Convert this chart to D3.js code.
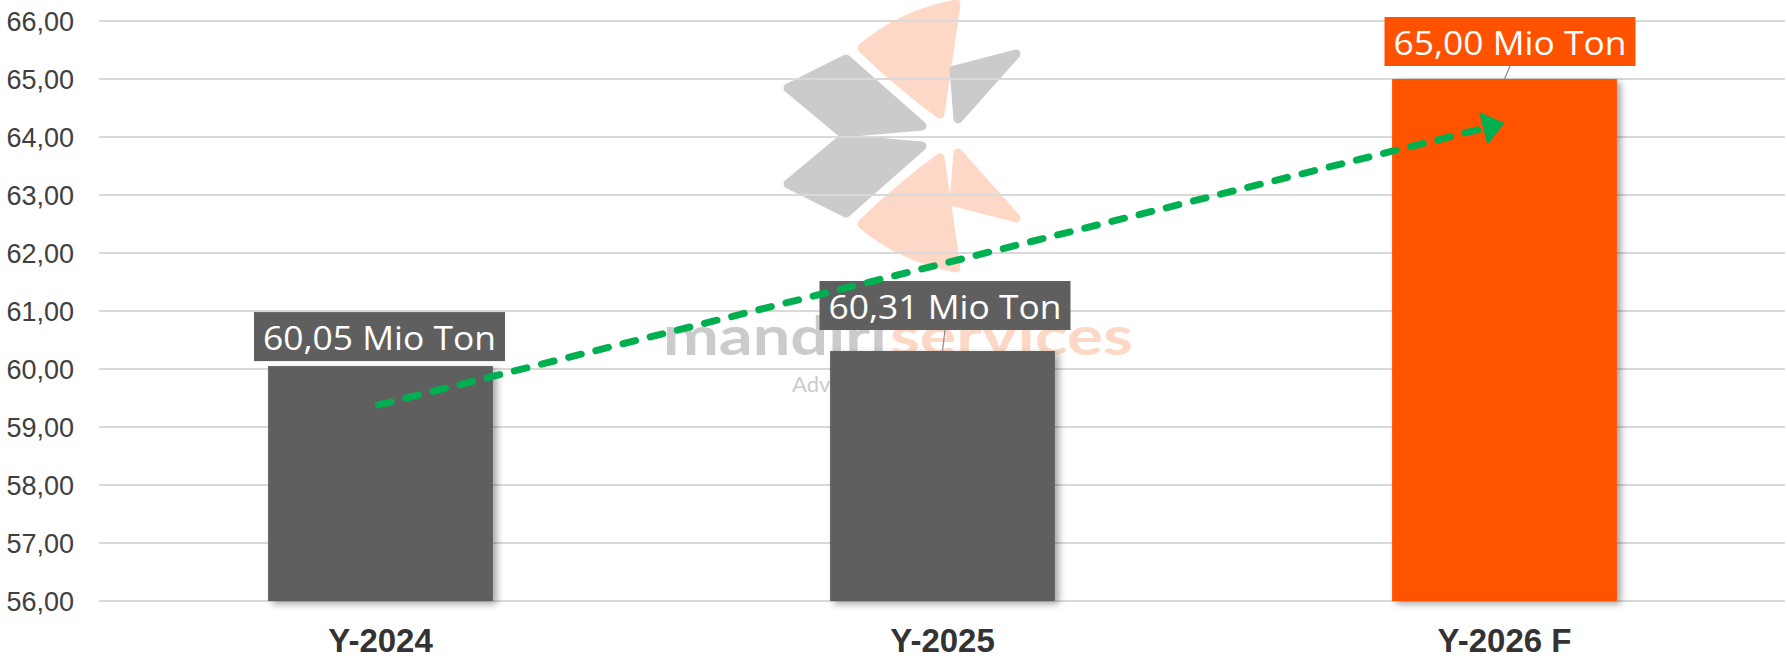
<!DOCTYPE html>
<html>
<head>
<meta charset="utf-8">
<script src="https://cdn.jsdelivr.net/npm/d3@7/dist/d3.min.js"></script>
<style>
  body { margin: 0; background: #fff; }
  svg { display: block; }
</style>
</head>
<body>
<svg id="chart"></svg>
<script>
// data
var categories = ["Y-2024", "Y-2025", "Y-2026 F"];
var values = [60.05, 60.31, 65.00];
var labels = ["60,05 Mio Ton", "60,31 Mio Ton", "65,00 Mio Ton"];
var yTicks = [56, 57, 58, 59, 60, 61, 62, 63, 64, 65, 66];
// trend arrow (category, value) from -> to
var arrowFrom = ["Y-2024", 59.38];
var arrowTo = ["Y-2026 F", 64.24];

// layout / style
var width = 1787, height = 661;
var colors = ["#5f5f5f", "#5f5f5f", "#ff5200"];
var labelShift = [{dx: -1, dy: 5}, {dx: 2.5, dy: 21}, {dx: 5.5, dy: 13}];

var svg = d3.select("#chart").attr("width", width).attr("height", height);

var x = d3.scaleBand()
  .domain(categories)
  .range([99.5, 1785.5])
  .paddingInner(0.6)
  .paddingOuter(0.3);

var y = d3.scaleLinear()
  .domain([56, 66])
  .range([601, 21]);

var defs = svg.append("defs");
var shadow = defs.append("filter")
  .attr("id", "shadow")
  .attr("x", "-10%").attr("y", "-10%")
  .attr("width", "130%").attr("height", "130%");
shadow.append("feDropShadow")
  .attr("dx", 4).attr("dy", 3)
  .attr("stdDeviation", 3.5)
  .attr("flood-color", "#000")
  .attr("flood-opacity", 0.35);

defs.append("marker")
  .attr("id", "arrowhead")
  .attr("markerUnits", "userSpaceOnUse")
  .attr("viewBox", "0 -17 22 34")
  .attr("refX", 2).attr("refY", 0)
  .attr("markerWidth", 22).attr("markerHeight", 34)
  .attr("orient", "auto")
  .append("path")
    .attr("d", "M0,-17L22,0L0,17Z")
    .attr("fill", "#00b050");

// watermark logo (behind everything)
var wm = svg.append("g").attr("class", "watermark");
var grey = "#cbcbcb", peach = "#fdd8c6";
var petals = [
  {c: peach, d: "M862,48Q900,15 956,4L940,114Q900,85 862,48Z"},
  {c: grey,  d: "M954,70L1016,54L958,119Z"},
  {c: grey,  d: "M788,88L846,59L922,126L842,133Z"},
  {c: grey,  d: "M788,184L846,213L922,146L842,139Z"},
  {c: peach, d: "M862,224Q900,257 956,268L940,158Q900,187 862,224Z"},
  {c: peach, d: "M954,202L1016,218L958,153Z"}
];
wm.selectAll("path")
  .data(petals)
  .enter().append("path")
    .attr("d", function(d) { return d.d; })
    .attr("fill", function(d) { return d.c; })
    .attr("stroke", function(d) { return d.c; })
    .attr("stroke-width", 9)
    .attr("stroke-linejoin", "round");
wm.append("text")
  .attr("x", 663).attr("y", 355)
  .attr("textLength", 224).attr("lengthAdjust", "spacingAndGlyphs")
  .style("font", "700 54px Lato")
  .attr("fill", grey)
  .text("mandiri");
wm.append("text")
  .attr("x", 890).attr("y", 355)
  .attr("textLength", 243).attr("lengthAdjust", "spacingAndGlyphs")
  .style("font", "700 54px Lato")
  .attr("fill", peach)
  .text("services");
wm.append("text")
  .attr("x", 792).attr("y", 392)
  .style("font", "400 22px Lato")
  .attr("fill", grey)
  .text("Advisory");

// gridlines
svg.append("g")
  .selectAll("line")
  .data(yTicks)
  .enter().append("line")
    .attr("x1", 99).attr("x2", 1785)
    .attr("y1", function(d) { return y(d); })
    .attr("y2", function(d) { return y(d); })
    .attr("stroke", "#d9d9d9")
    .attr("stroke-width", 2);

// y axis labels
svg.append("g")
  .selectAll("text")
  .data(yTicks)
  .enter().append("text")
    .attr("x", 74)
    .attr("y", function(d) { return y(d); })
    .attr("dy", "0.36em")
    .attr("text-anchor", "end")
    .style("font", "27px 'Liberation Sans', Arial, sans-serif")
    .attr("fill", "#404040")
    .text(function(d) { return d3.format(".2f")(d).replace(".", ","); });

// bars
svg.append("g")
  .selectAll("rect")
  .data(values)
  .enter().append("rect")
    .attr("x", function(d, i) { return x(categories[i]); })
    .attr("y", function(d) { return y(d); })
    .attr("width", x.bandwidth())
    .attr("height", function(d) { return y(56) - y(d); })
    .attr("fill", function(d, i) { return colors[i]; })
    .attr("filter", "url(#shadow)");

// x axis labels
svg.append("g")
  .selectAll("text")
  .data(categories)
  .enter().append("text")
    .attr("x", function(d) { return x(d) + x.bandwidth() / 2; })
    .attr("y", 652)
    .attr("text-anchor", "middle")
    .style("font", "bold 33px 'Liberation Sans', Arial, sans-serif")
    .attr("fill", "#333")
    .text(function(d) { return d; });

// data labels with boxes
var lab = svg.append("g")
  .selectAll("g")
  .data(values)
  .enter().append("g");

lab.each(function(d, i) {
  var g = d3.select(this);
  var cx = x(categories[i]) + x.bandwidth() / 2 + labelShift[i].dx;
  var bottom = y(d) - labelShift[i].dy;
  var boxH = 49, textW = 233, pad = 9;
  var w = textW + pad * 2;
  g.append("rect")
    .attr("fill", colors[i])
    .attr("x", cx - w / 2)
    .attr("y", bottom - boxH)
    .attr("width", w)
    .attr("height", boxH);
  g.append("text")
    .attr("x", cx)
    .attr("y", bottom - 11)
    .attr("text-anchor", "middle")
    .attr("textLength", textW)
    .attr("lengthAdjust", "spacingAndGlyphs")
    .style("font", "33px 'Open Sans', sans-serif")
    .attr("fill", "#fff")
    .text(labels[i]);
  if (labelShift[i].dy > 8) {
    g.insert("line", "rect")
      .attr("x1", cx).attr("y1", bottom)
      .attr("x2", cx - labelShift[i].dx).attr("y2", y(d))
      .attr("stroke", "#8c8c8c")
      .attr("stroke-width", 1.2);
  }
});

// trend arrow
var ax1 = x(arrowFrom[0]) + x.bandwidth() / 2 - 2, ay1 = y(arrowFrom[1]);
var ax2 = x(arrowTo[0]) + x.bandwidth() / 2, ay2 = y(arrowTo[1]);
var len = Math.hypot(ax2 - ax1, ay2 - ay1);
var ux = (ax2 - ax1) / len, uy = (ay2 - ay1) / len;
svg.append("line")
  .attr("x1", ax1).attr("y1", ay1)
  .attr("x2", ax2 - ux * 20).attr("y2", ay2 - uy * 20)
  .attr("stroke", "#00b050")
  .attr("stroke-width", 7)
  .attr("stroke-linecap", "round")
  .attr("stroke-dasharray", "13 15")
  .attr("marker-end", "url(#arrowhead)");
</script>
</body>
</html>
